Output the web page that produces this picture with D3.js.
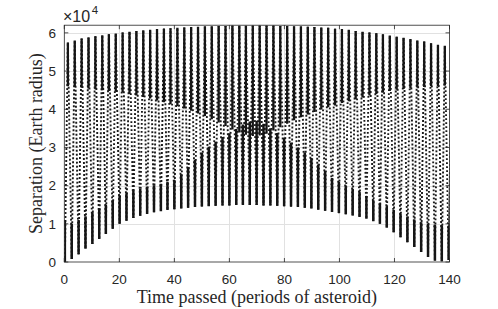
<!DOCTYPE html>
<html lang="en">
<head>
<meta charset="UTF-8">
<title>Separation</title>
<script src="https://d3js.org/d3.v7.min.js"></script>
<style>
    body { margin: 0; background: #fff; }
    svg { display: block; }
    .tick-label { font-family: "Liberation Sans", Arial, sans-serif; font-size: 13.5px; fill: #262626; }
    .axis-title { font-family: "Liberation Serif", "DejaVu Serif", serif; font-size: 18px; fill: #262626; }
    .expo { font-family: "Liberation Sans", Arial, sans-serif; font-size: 16px; fill: #262626; }
</style>
</head>
<body>
<div id="chart"></div>
<script>
// values in units of 1e4 Earth radii, time in asteroid periods
var troughT = [0.2, 2.7, 5.2, 7.7, 10.2, 12.7, 15.1, 17.6, 20.1, 22.6, 25.1, 27.6, 30.1, 32.6, 35.1, 37.5,
    40.0, 42.5, 45.0, 47.5, 50.0, 52.5, 55.0, 57.5, 60.0, 62.5, 64.9, 67.4, 69.9, 72.4, 74.9, 77.4,
    79.9, 82.4, 84.9, 87.4, 89.8, 92.3, 94.8, 97.3, 99.8, 102.3, 104.8, 107.3, 109.8, 112.3, 114.7,
    117.2, 119.7, 122.2, 124.7, 127.2, 129.7, 132.2, 134.7, 137.2, 139.7];
var troughVal = [0.0, 0.08, 0.2, 0.35, 0.47, 0.6, 0.73, 0.87, 1.0, 1.08, 1.15, 1.21, 1.26, 1.3, 1.33, 1.36,
    1.38, 1.4, 1.42, 1.44, 1.45, 1.46, 1.47, 1.48, 1.48, 1.49, 1.49, 1.49, 1.49, 1.48, 1.48, 1.47,
    1.46, 1.45, 1.44, 1.42, 1.4, 1.37, 1.34, 1.31, 1.28, 1.25, 1.22, 1.18, 1.13, 1.07, 1.0,
    0.9, 0.78, 0.65, 0.52, 0.39, 0.26, 0.13, 0.03, 0.02, 0.05];
var peakT = [1.3, 3.8, 6.3, 8.8, 11.3, 13.8, 16.2, 18.7, 21.2, 23.7, 26.2, 28.7, 31.2, 33.7, 36.2, 38.6,
    41.1, 43.6, 46.1, 48.6, 51.1, 53.6, 56.1, 58.6, 61.1, 63.6, 66.0, 68.5, 71.0, 73.5, 76.0, 78.5,
    81.0, 83.5, 86.0, 88.5, 90.9, 93.4, 95.9, 98.4, 100.9, 103.4, 105.9, 108.4, 110.9, 113.4, 115.8,
    118.3, 120.8, 123.3, 125.8, 128.3, 130.8, 133.3, 135.8, 138.3, 140.8];
var peakVal = [5.75, 5.8, 5.85, 5.88, 5.91, 5.94, 5.96, 5.98, 6.01, 6.03, 6.05, 6.07, 6.08, 6.1, 6.11, 6.12,
    6.13, 6.14, 6.15, 6.16, 6.17, 6.17, 6.18, 6.18, 6.19, 6.19, 6.19, 6.19, 6.19, 6.19, 6.19, 6.18,
    6.18, 6.17, 6.17, 6.16, 6.15, 6.14, 6.13, 6.11, 6.1, 6.08, 6.05, 6.03, 6.01, 5.99, 5.96,
    5.93, 5.9, 5.87, 5.84, 5.8, 5.77, 5.73, 5.69, 5.66, 5.62];
// lower edge of the dense band near each maximum
var topDense = [4.6, 4.58, 4.56, 4.54, 4.52, 4.5, 4.48, 4.46, 4.44, 4.4, 4.36, 4.32, 4.28, 4.23, 4.18, 4.13,
    4.08, 4.02, 3.96, 3.89, 3.82, 3.74, 3.65, 3.56, 3.47, 3.39, 3.33, 3.3, 3.31, 3.36, 3.44, 3.53,
    3.62, 3.71, 3.79, 3.86, 3.93, 3.99, 4.05, 4.1, 4.16, 4.21, 4.26, 4.31, 4.36, 4.4, 4.44,
    4.48, 4.51, 4.53, 4.55, 4.57, 4.58, 4.6, 4.61, 4.62, 4.63];
// upper edge of the dense band near each minimum
var botDense = [1.1, 1.0, 1.1, 1.2, 1.3, 1.4, 1.5, 1.62, 1.75, 1.8, 1.86, 1.92, 1.97, 2.01, 2.05, 2.1,
    2.15, 2.3, 2.48, 2.68, 2.86, 3.02, 3.15, 3.27, 3.37, 3.48, 3.6, 3.68, 3.7, 3.62, 3.5, 3.38,
    3.25, 3.12, 3.0, 2.87, 2.72, 2.55, 2.38, 2.2, 2.1, 2.0, 1.92, 1.83, 1.73, 1.62, 1.53,
    1.45, 1.36, 1.27, 1.19, 1.11, 1.04, 1.0, 0.98, 0.96, 0.95];

var xTicks = [0, 20, 40, 60, 80, 100, 120, 140];
var yTicks = [0, 1, 2, 3, 4, 5, 6];

function draw() {
    var width = 498, height = 309;
    var mLeft = 64.3, mRight = 449.5, mTop = 25.2, mBottom = 262;

    var svg = d3.select("#chart").append("svg")
        .attr("width", width)
        .attr("height", height);

    var x = d3.scaleLinear().domain([0, 140]).range([mLeft, mRight]);
    var y = d3.scaleLinear().domain([0, 6.2]).range([mBottom, mTop]);

    svg.append("clipPath").attr("id", "clip")
        .append("rect")
        .attr("x", mLeft).attr("y", mTop)
        .attr("width", mRight - mLeft).attr("height", mBottom - mTop);

    // grid
    var grid = svg.append("g").attr("stroke", "#e1e1e1").attr("stroke-width", 1);
    grid.selectAll(".gx").data(xTicks.slice(1, -1)).enter().append("line")
        .attr("x1", d => Math.round(x(d)) + 0.5).attr("x2", d => Math.round(x(d)) + 0.5)
        .attr("y1", mTop).attr("y2", mBottom);
    grid.selectAll(".gy").data(yTicks.slice(1)).enter().append("line")
        .attr("y1", d => Math.round(y(d)) + 0.5).attr("y2", d => Math.round(y(d)) + 0.5)
        .attr("x1", mLeft).attr("x2", mRight);

    var plot = svg.append("g").attr("clip-path", "url(#clip)");

    // sampled curve: dotted zigzag through minima and maxima
    var pts = [];
    troughT.forEach(function (t, i) {
        pts.push([t, troughVal[i]]);
        pts.push([peakT[i], peakVal[i]]);
    });
    var line = d3.line().x(d => x(d[0])).y(d => y(d[1]));
    plot.append("path")
        .attr("d", line(pts))
        .attr("fill", "none")
        .attr("stroke", "#1a1a1a")
        .attr("stroke-width", 1.9)
        .attr("stroke-dasharray", "1.9,2.1");

    // dense bands
    plot.selectAll(".bot").data(troughT).enter().append("line")
        .attr("x1", d => x(d)).attr("x2", d => x(d))
        .attr("y1", (d, i) => y(troughVal[i])).attr("y2", (d, i) => y(botDense[i]))
        .attr("stroke", "#151515").attr("stroke-width", 2.5);
    plot.selectAll(".top").data(peakT).enter().append("line")
        .attr("x1", d => x(d)).attr("x2", d => x(d))
        .attr("y1", (d, i) => y(peakVal[i])).attr("y2", (d, i) => y(topDense[i]))
        .attr("stroke", "#151515").attr("stroke-width", 2.3);

    // box and ticks
    var axisColor = "#262626";
    svg.append("rect")
        .attr("x", mLeft).attr("y", mTop)
        .attr("width", mRight - mLeft).attr("height", mBottom - mTop)
        .attr("fill", "none").attr("stroke", axisColor).attr("stroke-width", 0.8);

    var ticks = svg.append("g").attr("stroke", axisColor).attr("stroke-width", 0.8);
    xTicks.forEach(function (d) {
        ticks.append("line").attr("x1", x(d)).attr("x2", x(d)).attr("y1", mBottom).attr("y2", mBottom - 4);
        ticks.append("line").attr("x1", x(d)).attr("x2", x(d)).attr("y1", mTop).attr("y2", mTop + 4);
    });
    yTicks.forEach(function (d) {
        ticks.append("line").attr("y1", y(d)).attr("y2", y(d)).attr("x1", mLeft).attr("x2", mLeft + 4);
        ticks.append("line").attr("y1", y(d)).attr("y2", y(d)).attr("x1", mRight).attr("x2", mRight - 4);
    });

    svg.selectAll(".xl").data(xTicks).enter().append("text")
        .attr("class", "tick-label")
        .attr("x", d => x(d)).attr("y", 284)
        .attr("text-anchor", "middle")
        .text(d => d);
    svg.selectAll(".yl").data(yTicks).enter().append("text")
        .attr("class", "tick-label")
        .attr("x", 56).attr("y", d => y(d) + 4.8)
        .attr("text-anchor", "end")
        .text(d => d);

    // exponent
    var ex = svg.append("text").attr("class", "expo").attr("x", 63).attr("y", 21.5);
    ex.append("tspan").text("\u00d710");
    ex.append("tspan").attr("font-size", "11.5px").attr("dy", -7.5).attr("dx", 1.5).text("4");

    svg.append("text")
        .attr("class", "axis-title")
        .attr("x", (mLeft + mRight) / 2).attr("y", 303)
        .attr("text-anchor", "middle")
        .text("Time passed (periods of asteroid)");
    svg.append("text")
        .attr("class", "axis-title")
        .attr("transform", "translate(42," + ((mTop + mBottom) / 2) + ") rotate(-90)")
        .attr("text-anchor", "middle")
        .text("Separation (Earth radius)");
}

draw();
</script>
</body>
</html>
